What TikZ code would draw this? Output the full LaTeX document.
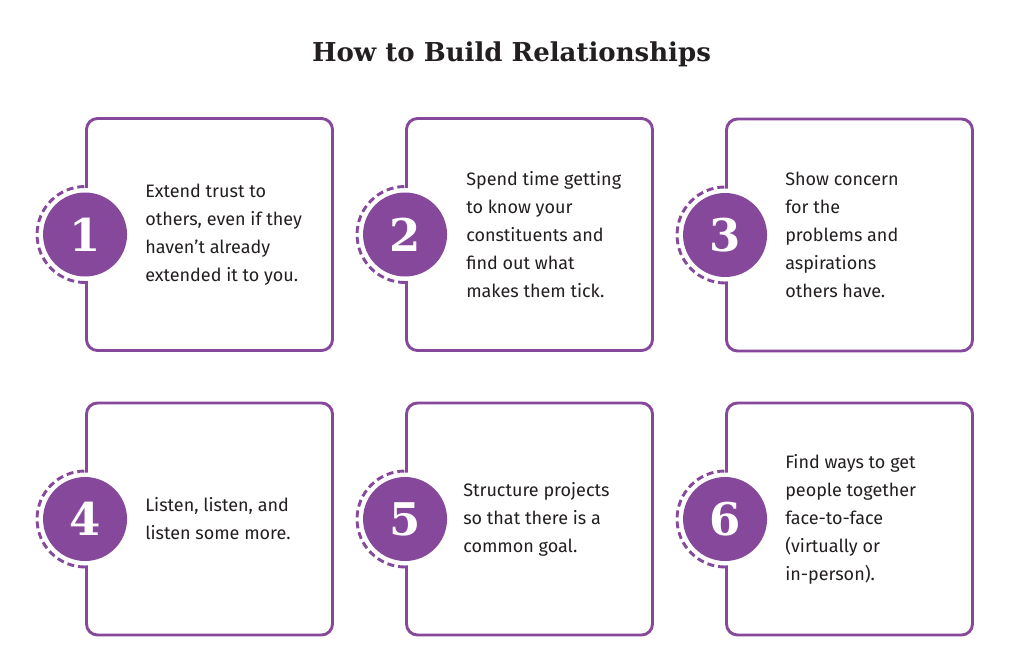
\documentclass[tikz,border=0pt]{standalone}
\usepackage{fontspec}
\setmainfont{DejaVu Serif}
\newfontfamily\bodyfont{Fira Sans}
\usetikzlibrary{positioning}
\definecolor{plum}{HTML}{86489B}
\definecolor{ink}{HTML}{231F20}

\begin{document}
\begin{tikzpicture}[x=1pt, y=-1pt,
    card/.style={draw=plum, line width=2.9pt, rounded corners=11pt, minimum width=246pt, minimum height=232pt, inner sep=0pt, fill=white},
    badge/.style={circle, fill=plum, minimum size=84pt, inner sep=0pt, text=white, font=\fontsize{45}{45}\selectfont\bfseries},
    halo/.style={draw=plum, line width=2.9pt, dash pattern=on 7pt off 4pt},
    tip/.style={anchor=west, align=left, text=ink, inner sep=0pt, font=\bodyfont\fontsize{18}{28}\selectfont}
  ]
  \useasboundingbox (0,0) rectangle (1024,664);
  % Title
  \node[text=ink, font=\fontsize{26}{26}\selectfont\bfseries] (title) at (511.5,54) {How to Build Relationships};

  % Cards
  \node[card] (c1) at (209.5,234.5) {};
  \node[card] (c2) at (529.5,234.5) {};
  \node[card] (c3) at (849.5,235) {};
  \node[card] (c4) at (209.5,519) {};
  \node[card] (c5) at (529.5,519) {};
  \node[card] (c6) at (849.5,519) {};

  % White gap behind the badges
  \foreach \c in {c1,c2,c3,c4,c5,c6}
    \fill[white] (\c.west) circle[radius=46.5];

  % Dashed half rings
  \foreach \c in {c1,c2,c3,c4,c5,c6}
    \draw[halo] (\c.west) ++(0,48) arc[start angle=90, end angle=270, radius=48];

  % Number badges
  \node[badge] (n1) at (c1.west) {1};
  \node[badge] (n2) at (c2.west) {2};
  \node[badge] (n3) at (c3.west) {3};
  \node[badge] (n4) at (c4.west) {4};
  \node[badge] (n5) at (c5.west) {5};
  \node[badge] (n6) at (c6.west) {6};

  % Texts
  \node[tip, right=60pt of c1.west] (t1) {Extend trust to\\others, even if they\\haven’t already\\extended it to you.};
  \node[tip, right=61pt of c2.west] (t2) {Spend time getting\\to know your\\constituents and\\find out what\\makes them tick.};
  \node[tip, right=60pt of c3.west] (t3) {Show concern\\for the\\problems and\\aspirations\\others have.};
  \node[tip, right=60pt of c4.west] (t4) {Listen, listen, and\\listen some more.};
  \node[tip, right=58pt of c5.west] (t5) {Structure projects\\so that there is a\\common goal.};
  \node[tip, right=60pt of c6.west] (t6) {Find ways to get\\people together\\face-to-face\\(virtually or\\in-person).};
\end{tikzpicture}
\end{document}
